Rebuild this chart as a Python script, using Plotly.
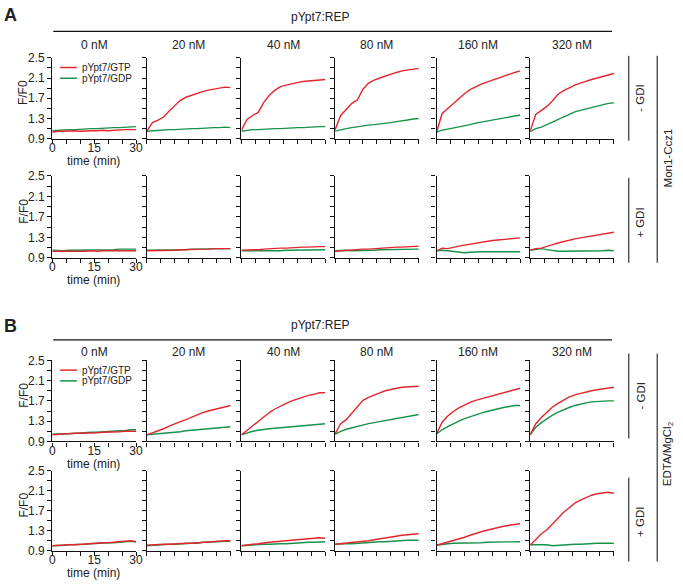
import plotly.graph_objects as go

W, H = 683, 588

time_min = [0, 2, 4, 6, 8, 10, 12, 14, 16, 18, 20, 22, 24, 26, 28, 30]
concentrations = ["0 nM", "20 nM", "40 nM", "80 nM", "160 nM", "320 nM"]
y_tick_labels = ["0.9", "1.3", "1.7", "2.1", "2.5"]
x_tick_labels = ["0", "15", "30"]

# ---- Panel A (Mon1-Ccz1), - GDI ----
A_noGDI_GTP = [
    [1.03, 1.05, 1.05, 1.06, 1.06, 1.05, 1.06, 1.06, 1.06, 1.07, 1.06, 1.07, 1.07, 1.08, 1.08, 1.08],
    [1.05, 1.22, 1.27, 1.33, 1.45, 1.56, 1.66, 1.72, 1.76, 1.80, 1.83, 1.86, 1.88, 1.91, 1.92, 1.91],
    [1.07, 1.28, 1.36, 1.42, 1.62, 1.76, 1.86, 1.93, 1.96, 1.99, 2.01, 2.03, 2.04, 2.06, 2.07, 2.07],
    [1.08, 1.36, 1.48, 1.60, 1.67, 1.88, 2.00, 2.06, 2.10, 2.14, 2.18, 2.21, 2.24, 2.26, 2.28, 2.29],
    [1.03, 1.40, 1.50, 1.60, 1.70, 1.79, 1.87, 1.93, 1.98, 2.02, 2.06, 2.10, 2.13, 2.17, 2.21, 2.24],
    [1.05, 1.38, 1.46, 1.54, 1.65, 1.78, 1.85, 1.91, 1.96, 2.00, 2.04, 2.07, 2.10, 2.13, 2.16, 2.19],
]
A_noGDI_GDP = [
    [1.06, 1.07, 1.07, 1.08, 1.08, 1.09, 1.09, 1.10, 1.10, 1.11, 1.11, 1.12, 1.12, 1.13, 1.14, 1.14],
    [1.05, 1.06, 1.07, 1.07, 1.08, 1.08, 1.09, 1.09, 1.10, 1.10, 1.11, 1.11, 1.12, 1.12, 1.13, 1.12],
    [1.05, 1.07, 1.08, 1.08, 1.09, 1.09, 1.10, 1.10, 1.11, 1.11, 1.12, 1.12, 1.13, 1.13, 1.14, 1.14],
    [1.05, 1.08, 1.10, 1.12, 1.14, 1.15, 1.17, 1.18, 1.19, 1.21, 1.22, 1.24, 1.25, 1.27, 1.29, 1.30],
    [1.03, 1.07, 1.09, 1.11, 1.14, 1.16, 1.18, 1.21, 1.23, 1.25, 1.27, 1.29, 1.31, 1.33, 1.35, 1.37],
    [1.04, 1.10, 1.13, 1.18, 1.24, 1.29, 1.34, 1.39, 1.43, 1.46, 1.49, 1.52, 1.55, 1.58, 1.60, 1.61],
]
# ---- Panel A (Mon1-Ccz1), + GDI ----
A_GDI_GTP = [
    [1.03, 1.03, 1.02, 1.03, 1.03, 1.03, 1.03, 1.04, 1.03, 1.04, 1.04, 1.04, 1.04, 1.04, 1.05, 1.04],
    [1.04, 1.04, 1.04, 1.05, 1.05, 1.05, 1.06, 1.06, 1.06, 1.07, 1.07, 1.07, 1.08, 1.08, 1.08, 1.08],
    [1.05, 1.05, 1.06, 1.06, 1.07, 1.08, 1.08, 1.09, 1.09, 1.10, 1.10, 1.11, 1.11, 1.12, 1.12, 1.12],
    [1.03, 1.04, 1.05, 1.05, 1.06, 1.07, 1.07, 1.08, 1.09, 1.10, 1.10, 1.11, 1.11, 1.12, 1.12, 1.13],
    [1.03, 1.09, 1.08, 1.11, 1.13, 1.15, 1.17, 1.19, 1.21, 1.22, 1.24, 1.25, 1.26, 1.27, 1.28, 1.29],
    [1.05, 1.08, 1.09, 1.13, 1.16, 1.19, 1.22, 1.25, 1.27, 1.29, 1.31, 1.33, 1.35, 1.36, 1.38, 1.40],
]
A_GDI_GDP = [
    [1.05, 1.04, 1.04, 1.05, 1.05, 1.05, 1.05, 1.05, 1.06, 1.06, 1.06, 1.06, 1.07, 1.07, 1.08, 1.07],
    [1.05, 1.05, 1.05, 1.05, 1.06, 1.06, 1.06, 1.06, 1.07, 1.07, 1.07, 1.08, 1.08, 1.08, 1.08, 1.08],
    [1.04, 1.04, 1.04, 1.03, 1.04, 1.04, 1.04, 1.04, 1.05, 1.05, 1.05, 1.05, 1.06, 1.06, 1.06, 1.06],
    [1.04, 1.05, 1.05, 1.04, 1.04, 1.05, 1.05, 1.05, 1.06, 1.06, 1.06, 1.07, 1.07, 1.07, 1.07, 1.07],
    [1.04, 1.05, 1.04, 1.03, 1.02, 1.00, 1.01, 1.02, 1.02, 1.02, 1.02, 1.02, 1.03, 1.03, 1.03, 1.02],
    [1.05, 1.07, 1.08, 1.06, 1.04, 1.03, 1.03, 1.03, 1.03, 1.04, 1.03, 1.04, 1.04, 1.04, 1.05, 1.04],
]
# ---- Panel B (EDTA/MgCl2), - GDI ----
B_noGDI_GTP = [
    [1.03, 1.04, 1.04, 1.05, 1.06, 1.06, 1.06, 1.07, 1.07, 1.08, 1.08, 1.09, 1.09, 1.10, 1.10, 1.10],
    [1.03, 1.07, 1.10, 1.15, 1.20, 1.25, 1.29, 1.33, 1.38, 1.42, 1.47, 1.50, 1.53, 1.56, 1.59, 1.61],
    [1.03, 1.12, 1.20, 1.30, 1.38, 1.47, 1.54, 1.60, 1.65, 1.70, 1.74, 1.78, 1.81, 1.83, 1.86, 1.86],
    [1.05, 1.25, 1.33, 1.45, 1.58, 1.71, 1.77, 1.82, 1.86, 1.90, 1.93, 1.95, 1.97, 1.98, 1.99, 1.99],
    [1.05, 1.28, 1.40, 1.49, 1.56, 1.62, 1.67, 1.71, 1.74, 1.77, 1.80, 1.83, 1.86, 1.89, 1.92, 1.95],
    [1.03, 1.25, 1.37, 1.48, 1.58, 1.65, 1.72, 1.78, 1.82, 1.85, 1.88, 1.90, 1.92, 1.94, 1.96, 1.97],
]
B_noGDI_GDP = [
    [1.04, 1.05, 1.05, 1.05, 1.06, 1.06, 1.07, 1.08, 1.08, 1.09, 1.10, 1.10, 1.11, 1.11, 1.13, 1.13],
    [1.03, 1.04, 1.05, 1.05, 1.06, 1.08, 1.09, 1.11, 1.12, 1.13, 1.15, 1.16, 1.17, 1.18, 1.19, 1.19],
    [1.03, 1.07, 1.10, 1.12, 1.14, 1.15, 1.16, 1.17, 1.18, 1.19, 1.20, 1.21, 1.22, 1.23, 1.24, 1.25],
    [1.04, 1.10, 1.14, 1.17, 1.20, 1.23, 1.25, 1.27, 1.29, 1.31, 1.34, 1.36, 1.38, 1.40, 1.42, 1.43],
    [1.05, 1.13, 1.19, 1.25, 1.30, 1.35, 1.39, 1.43, 1.46, 1.49, 1.52, 1.55, 1.57, 1.59, 1.61, 1.61],
    [1.03, 1.18, 1.27, 1.35, 1.42, 1.48, 1.53, 1.57, 1.61, 1.64, 1.66, 1.68, 1.69, 1.70, 1.70, 1.70],
]
# ---- Panel B (EDTA/MgCl2), + GDI ----
B_GDI_GTP = [
    [1.00, 1.01, 1.01, 1.02, 1.02, 1.03, 1.04, 1.04, 1.05, 1.06, 1.06, 1.07, 1.07, 1.08, 1.10, 1.08],
    [1.01, 1.02, 1.02, 1.03, 1.03, 1.04, 1.04, 1.05, 1.05, 1.06, 1.07, 1.08, 1.08, 1.09, 1.10, 1.10],
    [1.00, 1.02, 1.03, 1.04, 1.06, 1.07, 1.08, 1.09, 1.10, 1.11, 1.12, 1.13, 1.14, 1.15, 1.16, 1.15],
    [1.03, 1.04, 1.05, 1.06, 1.07, 1.08, 1.10, 1.12, 1.14, 1.16, 1.18, 1.20, 1.21, 1.22, 1.23, 1.24],
    [1.01, 1.04, 1.07, 1.10, 1.13, 1.17, 1.21, 1.25, 1.28, 1.31, 1.34, 1.37, 1.39, 1.41, 1.43, 1.44],
    [1.01, 1.13, 1.24, 1.32, 1.44, 1.56, 1.67, 1.76, 1.85, 1.91, 1.96, 2.01, 2.04, 2.05, 2.07, 2.05],
]
B_GDI_GDP = [
    [1.00, 1.00, 1.01, 1.02, 1.02, 1.03, 1.03, 1.04, 1.05, 1.05, 1.06, 1.06, 1.07, 1.07, 1.09, 1.08],
    [1.00, 1.01, 1.02, 1.02, 1.03, 1.03, 1.04, 1.04, 1.05, 1.05, 1.07, 1.07, 1.08, 1.08, 1.09, 1.09],
    [1.00, 1.01, 1.02, 1.02, 1.03, 1.03, 1.04, 1.04, 1.04, 1.05, 1.06, 1.06, 1.07, 1.07, 1.08, 1.08],
    [1.03, 1.04, 1.04, 1.04, 1.05, 1.05, 1.06, 1.07, 1.08, 1.08, 1.09, 1.10, 1.10, 1.11, 1.11, 1.11],
    [1.01, 1.03, 1.04, 1.05, 1.05, 1.05, 1.06, 1.06, 1.06, 1.07, 1.07, 1.07, 1.08, 1.08, 1.08, 1.08],
    [1.02, 1.02, 1.02, 1.02, 1.00, 1.01, 1.02, 1.02, 1.03, 1.03, 1.04, 1.04, 1.05, 1.05, 1.05, 1.05],
]

RED = "#e3262d"
GREEN = "#17924a"
FONT = "Liberation Sans, Arial, Helvetica, sans-serif"

# layout geometry (pixels)
col_left = [50, 146, 242, 337, 440, 535]
col_w = 85
rows = [  # (top_px, bottom_px, gtp, gdp)
    (52, 135, A_noGDI_GTP, A_noGDI_GDP),
    (173, 257, A_GDI_GTP, A_GDI_GDP),
    (362, 445, B_noGDI_GTP, B_noGDI_GDP),
    (475, 557, B_GDI_GTP, B_GDI_GDP),
]

def px(x):
    return x / W

def py(y):
    return 1 - y / H

fig = go.Figure()
layout_axes = {}
y_tickvals = [0.9, 1.1, 1.3, 1.5, 1.7, 1.9, 2.1, 2.3, 2.5]
x_tickvals = [0, 5, 10, 15, 20, 25, 30]
k = 0
for (top, bot, gtp, gdp) in rows:
    for c in range(6):
        k += 1
        xa = "x" if k == 1 else f"x{k}"
        ya = "y" if k == 1 else f"y{k}"
        for series, color in ((gdp, GREEN), (gtp, RED)):
            fig.add_trace(go.Scatter(x=time_min, y=series[c], mode="lines",
                                     line=dict(color=color, width=1.4),
                                     xaxis=xa, yaxis=ya, showlegend=False,
                                     hoverinfo="skip"))
        if c == 0:
            ytext = []
            for v in y_tickvals:
                s = f"{v:.1f}"
                ytext.append(s if s in y_tick_labels else " ")
            xtext = []
            for v in x_tickvals:
                s = str(v)
                xtext.append(s if s in x_tick_labels else " ")
        else:
            ytext = [" "] * len(y_tickvals)
            xtext = [" "] * len(x_tickvals)
        sfx = "" if k == 1 else str(k)
        layout_axes["xaxis" + sfx] = dict(
            domain=[px(col_left[c]), px(col_left[c] + col_w)],
            anchor=ya, range=[0, 30], showgrid=False, zeroline=False,
            showline=True, linecolor="#111", linewidth=1.2,
            ticks="outside", ticklen=4, tickwidth=1.2, tickcolor="#111",
            tickvals=x_tickvals, ticktext=xtext, ticklabelstandoff=-6,
            tickfont=dict(size=12, color="#222", family=FONT))
        layout_axes["yaxis" + sfx] = dict(
            domain=[py(bot), py(top)],
            anchor=xa, range=[0.9, 2.5], showgrid=False, zeroline=False,
            showline=True, linecolor="#111", linewidth=1.2,
            ticks="outside", ticklen=4, tickwidth=1.2, tickcolor="#111",
            tickvals=y_tickvals, ticktext=ytext,
            tickfont=dict(size=12, color="#222", family=FONT))

annotations = []
shapes = []

def text(x, y, s, size=12, angle=0, bold=False, xanchor="center"):
    annotations.append(dict(x=px(x), y=py(y), xref="paper", yref="paper",
                            text=f"<b>{s}</b>" if bold else s, showarrow=False,
                            textangle=angle, xanchor=xanchor, yanchor="middle",
                            font=dict(size=size, color="#222", family=FONT)))

def line(x0, y0, x1, y1, color="#111", width=1.2):
    shapes.append(dict(type="line", xref="paper", yref="paper",
                       x0=px(x0), y0=py(y0), x1=px(x1), y1=py(y1),
                       line=dict(color=color, width=width)))

panels = [
    dict(letter="A", ly=8, hy=25, hty=10, ty=39, r1=(50, 137), r2=(175, 262),
         side="Mon1-Ccz1", sidey=155, top_row=rows[0], bot_row=rows[1]),
    dict(letter="B", ly=327, hy=341, hty=326, ty=353, r1=(355, 442), r2=(482, 568),
         side="EDTA/MgCl<sub>2</sub>", sidey=458, top_row=rows[2], bot_row=rows[3]),
]
for p in panels:
    text(8, p["ly"], p["letter"], size=18, bold=True)
    line(51, p["hy"], 618, p["hy"])
    text(322, p["hty"], "pYpt7:REP", size=12)
    for c, lab in enumerate(concentrations):
        text(col_left[c] + col_w / 2, p["ty"], lab, size=12)
    # side brackets
    line(635, p["r1"][0], 635, p["r1"][1], color="#555", width=1.5)
    line(635, p["r2"][0], 635, p["r2"][1], color="#555", width=1.5)
    line(664, p["r1"][0], 664, p["r2"][1], color="#555", width=1.5)
    text(647, (p["r1"][0] + p["r1"][1]) / 2, "- GDI", size=11.5, angle=-90)
    text(647, (p["r2"][0] + p["r2"][1]) / 2 + 3, "+ GDI", size=11.5, angle=-90)
    text(675, p["sidey"], p["side"], size=11.5, angle=-90)
    # y titles and x titles
    for (top, bot, _, _) in (p["top_row"], p["bot_row"]):
        text(21, (top + bot) / 2 - 6, "F/F0", size=12, angle=-90)
        text(92, bot + 23, "time (min)", size=12)
    # legend in first plot of top row
    t0 = p["top_row"][0]
    for i, (lab, col) in enumerate((("pYpt7/GTP", RED), ("pYpt7/GDP", GREEN))):
        yy = t0 + 10 + i * 11
        line(58, yy, 75, yy, color=col, width=1.5)
        text(78, yy, lab, size=10, xanchor="left")

fig.update_layout(width=W, height=H, margin=dict(l=0, r=0, t=0, b=0),
                  paper_bgcolor="white", plot_bgcolor="white",
                  font=dict(family=FONT, color="#222"),
                  annotations=annotations, shapes=shapes, **layout_axes)
fig.write_html("out.html", config={"displayModeBar": False},
               post_script="document.body.style.margin='0';"
                           "document.body.style.overflow='hidden';")
